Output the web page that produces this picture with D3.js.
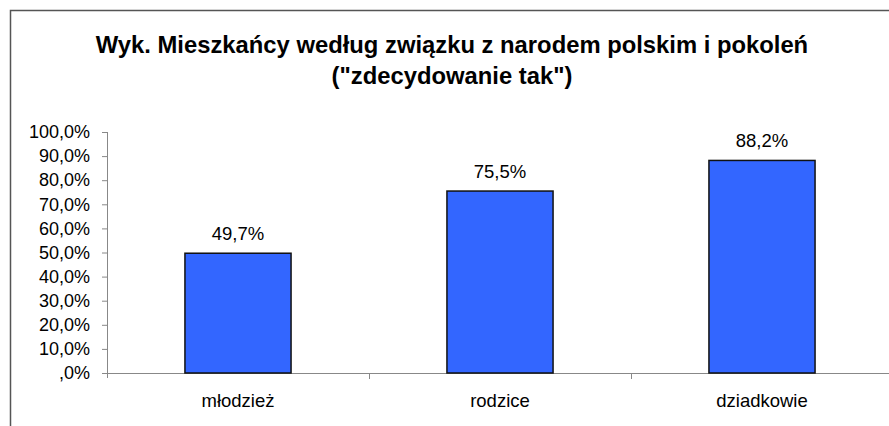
<!DOCTYPE html>
<html>
<head>
<meta charset="utf-8">
<script src="https://cdn.jsdelivr.net/npm/d3@7"></script>
<style>
  body { margin: 0; background: #fff; }
  svg { display: block; font-family: Arial, "Liberation Sans", sans-serif; }
</style>
</head>
<body>
<div id="chart"></div>
<script>
/* DATA */
const categories = ["młodzież", "rodzice", "dziadkowie"];
const values = [49.7, 75.5, 88.2];
const yTicks = [0, 10, 20, 30, 40, 50, 60, 70, 80, 90, 100];
const titleLines = ["Wyk. Mieszkańcy według związku z narodem polskim i pokoleń", "(\"zdecydowanie tak\")"];

/* SIZES */
const width = 889,
      height = 426,
      plot = {left: 107, right: 893, top: 132, bottom: 373};

const fmt = v => (v === 0 ? "" : d3.format(".1f")(v).replace(".", ",").replace(/^0/, "")) + (v === 0 ? ",0%" : "%");
const fmtVal = v => String(v).replace(".", ",") + "%";

const svg = d3.select("#chart").append("svg")
    .attr("width", width)
    .attr("height", height);

/* FRAME */
svg.append("path")
    .attr("d", `M10.5,${height} V10.5 H${width}`)
    .attr("fill", "none")
    .attr("stroke", "#555")
    .attr("stroke-width", 1.5);

/* TITLE */
svg.append("g").selectAll("text")
    .data(titleLines)
    .join("text")
      .attr("x", 452)
      .attr("y", (d, i) => 53 + i * 31)
      .attr("text-anchor", "middle")
      .style("font-size", "23.8px")
      .style("font-weight", "bold")
      .text(d => d);

/* SCALES */
const xScale = d3.scaleBand()
    .domain(categories)
    .range([plot.left, plot.right])
    .paddingInner(0.595)
    .paddingOuter(0.2975);

const yScale = d3.scaleLinear()
    .domain([0, 100])
    .range([plot.bottom, plot.top]);

/* Y AXIS */
const yAxis = svg.append("g")
    .attr("transform", `translate(${plot.left},0)`)
    .call(d3.axisLeft(yScale).tickValues(yTicks).tickSize(5).tickPadding(12).tickFormat(fmt));
yAxis.select(".domain").attr("d", `M0.5,${plot.top}V${plot.bottom + 5}`).attr("stroke", "#888");
yAxis.selectAll(".tick line").attr("stroke", "#888");
yAxis.selectAll(".tick text")
    .style("font-size", "18px")
    .attr("fill", "#000")
    .attr("font-family", null);

/* X AXIS */
const step = xScale.step();
const xAxis = svg.append("g")
    .attr("transform", `translate(0,${plot.bottom})`);
xAxis.append("line")
    .attr("x1", plot.left).attr("x2", plot.right)
    .attr("y1", 0.5).attr("y2", 0.5)
    .attr("stroke", "#888");
xAxis.selectAll("line.cat")
    .data(categories)
    .join("line")
      .attr("class", "cat")
      .attr("x1", d => xScale(d) - xScale.paddingOuter() * step + step + 0.5)
      .attr("x2", d => xScale(d) - xScale.paddingOuter() * step + step + 0.5)
      .attr("y1", 0).attr("y2", 6)
      .attr("stroke", "#888");
xAxis.selectAll("text")
    .data(categories)
    .join("text")
      .attr("x", d => xScale(d) + xScale.bandwidth() / 2)
      .attr("y", 34)
      .attr("text-anchor", "middle")
      .style("font-size", "18.5px")
      .text(d => d);

/* BARS */
svg.append("g").selectAll("rect")
    .data(values)
    .join("rect")
      .attr("x", (d, i) => xScale(categories[i]))
      .attr("y", d => yScale(d))
      .attr("width", xScale.bandwidth())
      .attr("height", d => yScale(0) - yScale(d))
      .attr("fill", "#3366FF")
      .attr("stroke", "#111")
      .attr("stroke-width", 1.5);

/* VALUE LABELS */
svg.append("g").selectAll("text")
    .data(values)
    .join("text")
      .attr("x", (d, i) => xScale(categories[i]) + xScale.bandwidth() / 2)
      .attr("y", d => yScale(d) - 13)
      .attr("text-anchor", "middle")
      .style("font-size", "18.5px")
      .text(d => fmtVal(d));
</script>
</body>
</html>
